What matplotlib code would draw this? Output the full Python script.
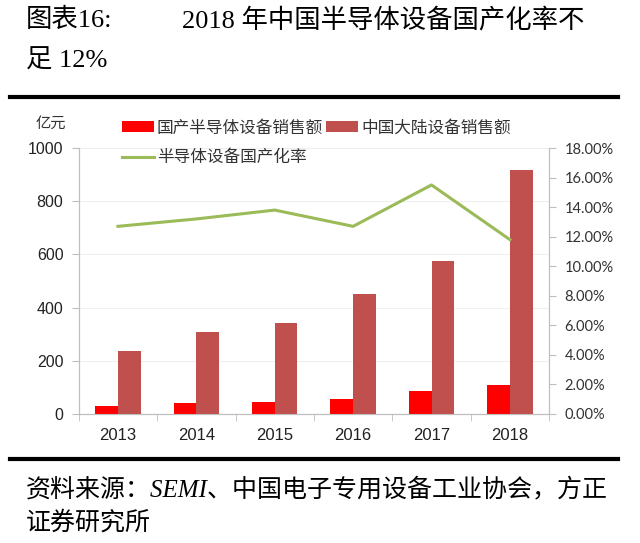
import numpy as np
import matplotlib
matplotlib.use("Agg")
import matplotlib.pyplot as plt
from matplotlib.ticker import FuncFormatter, FixedLocator

plt.rcParams['font.family'] = ['Liberation Sans', 'Noto Sans CJK SC']

years = ['2013', '2014', '2015', '2016', '2017', '2018']
domestic = [29, 41, 46, 56, 87, 109]          # 国产半导体设备销售额 (亿元)
mainland = [237, 309, 341, 450, 575, 917]     # 中国大陆设备销售额 (亿元)
rate = [12.7, 13.2, 13.8, 12.7, 15.5, 11.8]   # 半导体设备国产化率 (%)

fig = plt.figure(figsize=(6.4, 5.43), dpi=100)
ax = fig.add_axes([0.123, 0.2376, 0.735, 0.4898])
ax2 = ax.twinx()

x = np.arange(len(years))
w = 0.29
b1 = ax.bar(x - w / 2, domestic, w, color='#FF0000', label='国产半导体设备销售额', zorder=3)
b2 = ax.bar(x + w / 2, mainland, w, color='#C0504D', label='中国大陆设备销售额', zorder=3)
ln, = ax2.plot(x, [r / 100 for r in rate], color='#9BBB59', lw=2.2, label='半导体设备国产化率')

ax.set_xlim(-0.5, len(years) - 0.5)
ax.set_ylim(0, 1000)
ax.set_yticks(range(0, 1001, 200))
ax2.set_ylim(0, 0.18)
ax2.set_yticks(np.arange(0, 0.181, 0.02))
ax2.yaxis.set_major_formatter(FuncFormatter(lambda v, p: f'{v * 100:.2f}%'))

ax.set_xticks(x)
ax.set_xticklabels(years, fontsize=12, color='#222222')
ax.tick_params(axis='x', which='major', length=0, pad=10)
ax.xaxis.set_minor_locator(FixedLocator(np.arange(-0.5, len(years), 1)))
ax.tick_params(axis='x', which='minor', length=5, color='#BFBFBF', direction='out')
ax.tick_params(axis='y', length=5, color='#BFBFBF', labelsize=11.5, labelcolor='#222222', pad=6)
ax2.tick_params(axis='y', length=5, color='#BFBFBF', labelsize=10.5, labelcolor='#333333', pad=6)
for t in ax2.get_yticklabels():
    t.set_fontfamily('Lato')

ax.grid(axis='y', color='#EFEFEF', lw=0.8, zorder=0)
for a in (ax, ax2):
    a.spines['top'].set_visible(False)
    for s in ('left', 'right', 'bottom'):
        a.spines[s].set_color('#BFBFBF')
        a.spines[s].set_linewidth(0.8)

leg = ax.legend([b1, ln, b2], [b1.get_label(), ln.get_label(), b2.get_label()],
                ncol=2, loc='upper left', bbox_to_anchor=(0.18, 0.792),
                bbox_transform=fig.transFigure, frameon=False,
                prop={'family': 'Noto Sans CJK SC', 'size': 12},
                handlelength=1.9, handleheight=0.6, handletextpad=0.2,
                columnspacing=0.2, labelspacing=0.75, borderaxespad=0)
for t in leg.get_texts():
    t.set_color('#333333')

fig.text(0.055, 0.773, '亿元', fontsize=11, family='Noto Sans CJK SC', color='#333333', va='center')

title_font = ['Liberation Serif', 'Noto Sans CJK SC']
fig.text(0.04, 0.963, '图表16:', fontsize=19, family=title_font, va='center')
fig.text(0.285, 0.963, '2018 年中国半导体设备国产化率不', fontsize=19, family=title_font, va='center')
fig.text(0.04, 0.887, '足 12%', fontsize=19, family=title_font, va='center')

fig.add_artist(plt.Line2D([0.015, 0.965], [0.822, 0.822], color='black', lw=3, transform=fig.transFigure))
fig.add_artist(plt.Line2D([0.015, 0.965], [0.155, 0.155], color='black', lw=3, transform=fig.transFigure))

fig.text(0.04, 0.098, '资料来源：SEMI、中国电子专用设备工业协会，方正', fontsize=18,
         family=title_font, style='italic', va='center')
fig.text(0.04, 0.038, '证券研究所', fontsize=18, family=title_font, style='italic', va='center')

fig.savefig('out.png', dpi=100)
